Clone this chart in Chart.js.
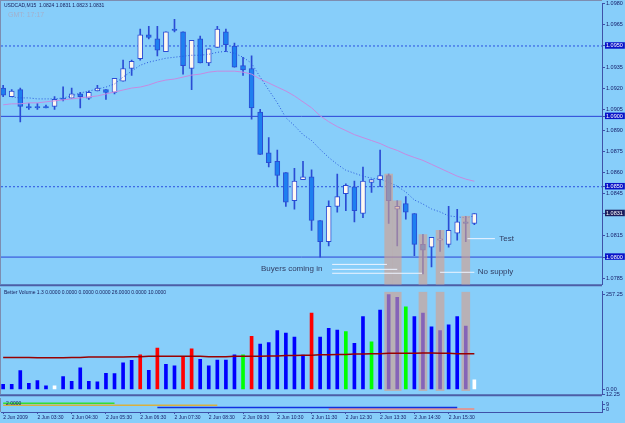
<!DOCTYPE html>
<html>
<head>
<meta charset="utf-8">
<title>USDCAD,M15</title>
<script src="https://cdn.jsdelivr.net/npm/chart.js@4.4.0/dist/chart.umd.min.js"></script>
<style>
  html, body { margin: 0; padding: 0; background: #87cefa; }
  #wrap { position: relative; width: 625px; height: 423px; overflow: hidden; }
  canvas { position: absolute; left: 0; }
  #price { top: 0; }
  #volume { top: 288px; }
  #strip { top: 398px; }
</style>
</head>
<body>
<div id="wrap">
  <canvas id="price" width="625" height="288"></canvas>
  <canvas id="volume" width="625" height="110"></canvas>
  <canvas id="strip" width="625" height="25"></canvas>
</div>
<script>
const SYMBOL = "USDCAD,M15";
const CLOCK = "GMT: 17:17";
const VOL_CAPTION = "Better Volume 1.3 0.0000 0.0000 0.0000 0.0000 26.0000 0.0000 10.0000";
const STRIP_CAPTION = "2.0000";

// 15 minute bars, 2 Jun 2009 02:30 onwards
const OPEN = [1.0920, 1.0914, 1.0919, 1.0907, 1.0907, 1.0907, 1.0907, 1.0913, 1.0913, 1.0916,
  1.0913, 1.0918, 1.0919, 1.0917, 1.0925, 1.0934, 1.0941, 1.0958, 1.0955, 1.0946,
  1.0962, 1.0960, 1.0934, 1.0955, 1.0938, 1.0949, 1.0960, 1.0950, 1.0936, 1.0934,
  1.0903, 1.0874, 1.0868, 1.0860, 1.0840, 1.0855, 1.0857, 1.0826, 1.0811, 1.0836,
  1.0845, 1.0850, 1.0831, 1.0853, 1.0855, 1.0858, 1.0834, 1.0838, 1.0831, 1.0809,
  1.0807, 1.0812, 1.0809, 1.0817, 1.0825, 1.0824];
const HIGH = [1.0922, 1.0919, 1.0920, 1.0909, 1.0909, 1.0908, 1.0914, 1.0921, 1.0920, 1.0917,
  1.0918, 1.0922, 1.0919, 1.0927, 1.0940, 1.0940, 1.0962, 1.0964, 1.0964, 1.0960,
  1.0969, 1.0960, 1.0954, 1.0957, 1.0948, 1.0964, 1.0962, 1.0952, 1.0942, 1.0943,
  1.0905, 1.0885, 1.0876, 1.0860, 1.0863, 1.0868, 1.0862, 1.0826, 1.0840, 1.0859,
  1.0852, 1.0854, 1.0864, 1.0855, 1.0876, 1.0859, 1.0840, 1.0843, 1.0831, 1.0816,
  1.0814, 1.0819, 1.0836, 1.0834, 1.0829, 1.0831];
const LOW = [1.0914, 1.0914, 1.0896, 1.0905, 1.0905, 1.0906, 1.0905, 1.0911, 1.0913, 1.0906,
  1.0912, 1.0918, 1.0912, 1.0916, 1.0925, 1.0929, 1.0940, 1.0955, 1.0943, 1.0946,
  1.0960, 1.0930, 1.0919, 1.0938, 1.0936, 1.0949, 1.0946, 1.0935, 1.0929, 1.0898,
  1.0873, 1.0864, 1.0850, 1.0836, 1.0834, 1.0855, 1.0819, 1.0800, 1.0808, 1.0832,
  1.0833, 1.0825, 1.0828, 1.0846, 1.0850, 1.0824, 1.0808, 1.0827, 1.0801, 1.0788,
  1.0793, 1.0804, 1.0807, 1.0812, 1.0811, 1.0823];
const CLOSE = [1.0915, 1.0918, 1.0907, 1.0906, 1.0906, 1.0906, 1.0912, 1.0912, 1.0916, 1.0914,
  1.0917, 1.0920, 1.0917, 1.0927, 1.0934, 1.0939, 1.0958, 1.0956, 1.0947, 1.0960,
  1.0961, 1.0936, 1.0954, 1.0938, 1.0948, 1.0962, 1.0951, 1.0935, 1.0933, 1.0906,
  1.0873, 1.0867, 1.0858, 1.0839, 1.0854, 1.0857, 1.0826, 1.0811, 1.0836, 1.0843,
  1.0851, 1.0833, 1.0854, 1.0855, 1.0858, 1.0840, 1.0836, 1.0832, 1.0809, 1.0805,
  1.0814, 1.0813, 1.0819, 1.0825, 1.0824, 1.0831];

const FAST_MA = [null, 1.09138, 1.09131, 1.09131, 1.09124, 1.09124, 1.09124, 1.09131, 1.09145, 1.09166,
  1.09180, 1.09194, 1.09208, 1.09230, 1.09279, 1.09321, 1.09363, 1.09385, 1.09399, 1.09413,
  1.09420, 1.09427, 1.09434, 1.09434, 1.09441, 1.09455, 1.09462, 1.09448, 1.09420, 1.09377,
  1.09279, 1.09187, 1.09096, 1.08990, 1.08934, 1.08870, 1.08828, 1.08765, 1.08708, 1.08659,
  1.08617, 1.08596, 1.08575, 1.08561, 1.08554, 1.08532, 1.08504, 1.08462, 1.08406, 1.08377,
  1.08342, 1.08321, 1.08293, 1.08286, 1.08279, 1.08293];
const SLOW_MA = [1.09082, 1.09089, 1.09089, 1.09096, 1.09096, 1.09103, 1.09110, 1.09117, 1.09124, 1.09131,
  1.09138, 1.09145, 1.09159, 1.09173, 1.09187, 1.09201, 1.09208, 1.09223, 1.09244, 1.09258,
  1.09265, 1.09279, 1.09293, 1.09300, 1.09314, 1.09321, 1.09321, 1.09321, 1.09314, 1.09300,
  1.09265, 1.09237, 1.09208, 1.09180, 1.09145, 1.09103, 1.09061, 1.09004, 1.08962, 1.08927,
  1.08899, 1.08870, 1.08849, 1.08828, 1.08807, 1.08779, 1.08758, 1.08730, 1.08708, 1.08687,
  1.08659, 1.08631, 1.08603, 1.08575, 1.08554, 1.08539];

const VOLUME = [14, 14, 51, 17, 24, 10, 10, 35, 22, 59,
  22, 21, 44, 43, 72, 79, 94, 52, 112, 68,
  64, 90, 110, 82, 64, 80, 80, 94, 94, 144,
  123, 127, 160, 153, 142, 93, 207, 142, 166, 161,
  157, 125, 198, 129, 215, 257, 250, 224, 198, 207,
  170, 160, 175, 198, 172, 26];
// n = normal, c = climax, g = churn, w = low volume
const VOL_KIND = ["n", "n", "n", "n", "n", "n", "w", "n", "n", "n",
  "n", "n", "n", "n", "n", "n", "c", "n", "c", "n",
  "n", "c", "c", "n", "n", "n", "n", "n", "g", "c",
  "n", "n", "n", "n", "n", "n", "c", "n", "n", "n",
  "g", "n", "n", "g", "n", "n", "n", "g", "n", "n",
  "n", "n", "n", "n", "n", "w"];
const VOL_AVG = [87, 87, 87, 87, 86, 86, 86, 86, 87, 87,
  88, 88, 88, 88, 88, 89, 89, 90, 90, 90,
  90, 90, 90, 90, 89, 89, 89, 90, 90, 90,
  90, 91, 91, 92, 92, 93, 93, 94, 94, 95,
  95, 96, 96, 97, 97, 98, 98, 98, 98, 99,
  99, 98, 98, 97, 97, 97];

const MARKED_BARS = [45, 46, 49, 51, 54];
const LEVELS = [1.0950, 1.0900, 1.0850, 1.0800];
const LEVEL_DOTTED = [true, false, true, false];
const PRICE_TICKS = [1.0785, 1.0815, 1.0845, 1.0860, 1.0875, 1.0890, 1.0905, 1.0920, 1.0935, 1.0965, 1.0980];
const VOL_TICKS = [-12.25, 0, 257.25];
const STRIP_TICKS = [0, 9];
const TIME_BARS = [0, 4, 8, 12, 16, 20, 24, 28, 32, 36, 40, 44, 48, 52];
const TIME_LABELS = ["2 Jun 2009", "2 Jun 03:30", "2 Jun 04:30", "2 Jun 05:30", "2 Jun 06:30",
  "2 Jun 07:30", "2 Jun 08:30", "2 Jun 09:30", "2 Jun 10:30", "2 Jun 11:30",
  "2 Jun 12:30", "2 Jun 13:30", "2 Jun 14:30", "2 Jun 15:30"];

const NOTE_TEXT = ["Buyers coming in", "No supply", "Test"];
const NOTE_BAR = [30.1, 55.4, 57.9];
const NOTE_PRICE = [1.07920, 1.07892, 1.08131];
const GUIDE_FROM = [38.4, 38.4, 38.4, 51.0, 54.2];
const GUIDE_TO = [44.8, 46.0, 48.9, 55.0, 57.4];
const GUIDE_PRICE = [1.07948, 1.07913, 1.07885, 1.07892, 1.08131];

const SIG_BARS = [[0, 13], [0, 25], [18, 53], [38, 55]];
const SIG_LEVEL = [12, 8, 3, 0];

// axis ranges
const X_MIN = -0.25, X_MAX = 69.9;
const PRICE_MIN = 1.07807, PRICE_MAX = 1.0980;
const VOL_MIN = -12.9, VOL_MAX = 265;
const STRIP_MIN = -6, STRIP_MAX = 15;

const FONT = "'Liberation Sans', Arial, sans-serif";
const AXIS_COLOR = "#3f51a8";
const LABEL_COLOR = "#17206b";
const WICK = "#2a4cd4";
const BULL = "#fff8f0";
const BEAR = "#1e7ff0";
const BAND = "rgba(215,160,140,0.62)";
const VOL_COLORS = { n: "#0000ff", c: "#ff0000", g: "#00ff00", w: "#ffffff" };
const SIG_COLORS = ["#33dd33", "#d8b040", "#1030e0", "#d89a9a"];
const AXIS_W = 23;

Chart.defaults.animation = false;
Chart.defaults.font.family = FONT;

const lastIdx = CLOSE.length - 1;
const same = (a, b) => Math.abs(a - b) < 1e-7;
const isLevel = v => LEVELS.some(l => same(l, v));
const isLast = v => same(v, CLOSE[lastIdx]);
const tickVal = c => (c.tick ? c.tick.value : NaN);

const baseX = (display) => ({
  type: "linear", min: X_MIN, max: X_MAX, offset: false, display: display
});

function rightAxis(min, max, values, fmt) {
  return {
    position: "right", min: min, max: max,
    afterBuildTicks: s => { s.ticks = values.map(v => ({ value: v })); },
    afterFit: s => { s.width = AXIS_W; },
    grid: { drawOnChartArea: false, tickLength: 3, color: AXIS_COLOR, offset: false },
    border: { color: AXIS_COLOR, width: 1 },
    ticks: {
      autoSkip: false, padding: 1,
      font: { size: 5.5, lineHeight: 1 },
      color: LABEL_COLOR,
      callback: fmt
    }
  };
}

const framePlugin = {
  id: "frame",
  beforeDatasetsDraw(chart, args, opts) {
    const { ctx, chartArea: a } = chart;
    ctx.save();
    if (opts.bottom) {
      ctx.strokeStyle = "#4c5ea6";
      ctx.lineWidth = 2;
      ctx.beginPath();
      ctx.moveTo(0, a.bottom + 1);
      ctx.lineTo(a.right, a.bottom + 1);
      ctx.stroke();
    }
    ctx.strokeStyle = "#7d8db0";
    ctx.lineWidth = 1;
    ctx.beginPath();
    ctx.moveTo(0.5, 0);
    ctx.lineTo(0.5, a.bottom);
    if (opts.top) {
      ctx.moveTo(0, 0.5);
      ctx.lineTo(a.right, 0.5);
    }
    ctx.stroke();
    ctx.restore();
  }
};

// ---------- price panel ----------
const priceTicks = PRICE_TICKS.concat(LEVELS, [CLOSE[lastIdx]]).sort((a, b) => a - b);
const priceAxis = rightAxis(PRICE_MIN, PRICE_MAX, priceTicks, v => v.toFixed(4));
priceAxis.ticks.color = c => (isLevel(tickVal(c)) || isLast(tickVal(c)) ? "#ffffff" : LABEL_COLOR);
priceAxis.ticks.showLabelBackdrop = c => isLevel(tickVal(c)) || isLast(tickVal(c));
priceAxis.ticks.backdropColor = c => (isLast(tickVal(c)) ? "#1b1f5e" : "#0a14c8");
priceAxis.ticks.backdropPadding = { top: 1, bottom: 0, left: 1, right: 2 };

const priceNotes = {
  id: "priceNotes",
  afterDatasetsDraw(chart) {
    const { ctx, scales: { x, y } } = chart;
    ctx.save();
    ctx.textBaseline = "middle";
    ctx.font = "8px " + FONT;
    ctx.fillStyle = "#303c62";
    NOTE_TEXT.forEach((t, i) => {
      ctx.fillText(t, x.getPixelForValue(NOTE_BAR[i]), y.getPixelForValue(NOTE_PRICE[i]));
    });
    const ohlc = [OPEN[lastIdx], HIGH[lastIdx], LOW[lastIdx], CLOSE[lastIdx]].map(v => v.toFixed(4)).join(" ");
    ctx.font = "5px " + FONT;
    ctx.fillStyle = "#161c5a";
    ctx.fillText(SYMBOL + "  " + ohlc, 4, 6);
    ctx.font = "7px " + FONT;
    ctx.fillStyle = "#a2b0cc";
    ctx.fillText(CLOCK, 8, 15);
    ctx.restore();
  }
};

const priceDatasets = [];
GUIDE_PRICE.forEach((p, i) => {
  priceDatasets.push({
    type: "line", order: 0,
    data: [{ x: GUIDE_FROM[i], y: p }, { x: GUIDE_TO[i], y: p }],
    borderColor: "#eef4ff", borderWidth: 1, pointRadius: 0
  });
});
priceDatasets.push({
  type: "bar", order: 1, grouped: false, clip: false,
  data: MARKED_BARS.map(i => ({ x: i, y: [PRICE_MIN, HIGH[i]] })),
  barThickness: 8, backgroundColor: BAND, borderWidth: 0
});
priceDatasets.push({
  type: "line", order: 2,
  data: FAST_MA.map((v, i) => ({ x: i, y: v })),
  borderColor: "#2a58dc", borderWidth: 1, borderDash: [1, 2], pointRadius: 0
});
priceDatasets.push({
  type: "line", order: 2,
  data: SLOW_MA.map((v, i) => ({ x: i, y: v })),
  borderColor: "#c68ae0", borderWidth: 1, pointRadius: 0
});
priceDatasets.push({
  type: "bar", order: 3, grouped: false,
  data: OPEN.map((o, i) => ({ x: i, y: [o, CLOSE[i]] })),
  barThickness: 5, minBarLength: 1,
  backgroundColor: c => (CLOSE[c.dataIndex] >= OPEN[c.dataIndex] ? BULL : BEAR),
  borderColor: WICK, borderWidth: 1, borderSkipped: false
});
priceDatasets.push({
  type: "bar", order: 4, grouped: false,
  data: LOW.map((l, i) => ({ x: i, y: [l, HIGH[i]] })),
  barThickness: 1, backgroundColor: WICK, borderWidth: 0
});
LEVELS.forEach((lv, i) => {
  priceDatasets.push({
    type: "line", order: 5,
    data: [{ x: X_MIN, y: lv }, { x: X_MAX, y: lv }],
    borderColor: LEVEL_DOTTED[i] ? "#2b50e0" : "#2a42d6",
    borderDash: LEVEL_DOTTED[i] ? [2, 2] : [],
    borderWidth: 1, pointRadius: 0
  });
});

new Chart(document.getElementById("price"), {
  type: "bar",
  data: { datasets: priceDatasets },
  options: {
    responsive: false,
    layout: { padding: { top: 3, bottom: 2, left: 1, right: 0 } },
    plugins: { legend: { display: false }, tooltip: { enabled: false }, frame: { top: true, bottom: true } },
    scales: { x: baseX(false), y: priceAxis }
  },
  plugins: [framePlugin, priceNotes]
});

// ---------- volume panel ----------
const volNotes = {
  id: "volNotes",
  afterDatasetsDraw(chart) {
    const ctx = chart.ctx;
    ctx.save();
    ctx.textBaseline = "middle";
    ctx.font = "5px " + FONT;
    ctx.fillStyle = "#161c5a";
    ctx.fillText(VOL_CAPTION, 4, 5);
    ctx.restore();
  }
};

new Chart(document.getElementById("volume"), {
  type: "bar",
  data: {
    datasets: [
      {
        type: "line", order: 0,
        data: VOL_AVG.map((v, i) => ({ x: i, y: v })),
        borderColor: "#990000", borderWidth: 1.5, pointRadius: 0
      },
      {
        type: "bar", order: 1, grouped: false,
        data: MARKED_BARS.map(i => ({ x: i, y: [-3, VOL_MAX] })),
        barThickness: 8, backgroundColor: BAND, borderWidth: 0
      },
      {
        type: "bar", order: 2, grouped: false,
        data: VOLUME.map((v, i) => ({ x: i, y: v })),
        barThickness: 3,
        backgroundColor: c => VOL_COLORS[VOL_KIND[c.dataIndex]] || VOL_COLORS.n,
        borderWidth: 0
      }
    ]
  },
  options: {
    responsive: false,
    layout: { padding: { top: 1, bottom: 1, left: 1, right: 0 } },
    plugins: { legend: { display: false }, tooltip: { enabled: false }, frame: { top: false, bottom: true } },
    scales: { x: baseX(false), y: rightAxis(VOL_MIN, VOL_MAX, VOL_TICKS, v => Math.abs(v).toFixed(2)) }
  },
  plugins: [framePlugin, volNotes]
});

// ---------- signal strip + time axis ----------
const stripNotes = {
  id: "stripNotes",
  afterDatasetsDraw(chart) {
    const ctx = chart.ctx;
    ctx.save();
    ctx.textBaseline = "middle";
    ctx.font = "5px " + FONT;
    ctx.fillStyle = "#161c5a";
    ctx.fillText(STRIP_CAPTION, 6, 6);
    ctx.restore();
  }
};

const stripX = baseX(true);
stripX.afterBuildTicks = s => { s.ticks = TIME_BARS.map(v => ({ value: v })); };
stripX.afterFit = s => { s.height = 11; };
stripX.grid = { drawOnChartArea: false, tickLength: 2, color: AXIS_COLOR, offset: false };
stripX.border = { color: AXIS_COLOR, width: 1 };
stripX.ticks = {
  autoSkip: false, maxRotation: 0, minRotation: 0, padding: 1, align: "start",
  font: { size: 5, lineHeight: 1 }, color: LABEL_COLOR,
  callback: (v, i) => TIME_LABELS[i]
};

new Chart(document.getElementById("strip"), {
  type: "line",
  data: {
    datasets: SIG_BARS.map((b, i) => ({
      data: [{ x: b[0], y: SIG_LEVEL[i] }, { x: b[1], y: SIG_LEVEL[i] }],
      borderColor: SIG_COLORS[i], borderWidth: i === 3 ? 2 : 1.5, pointRadius: 0
    }))
  },
  options: {
    responsive: false,
    layout: { padding: { top: 0, bottom: 0, left: 1, right: 0 } },
    plugins: { legend: { display: false }, tooltip: { enabled: false }, frame: { top: false, bottom: false } },
    scales: { x: stripX, y: rightAxis(STRIP_MIN, STRIP_MAX, STRIP_TICKS, v => String(v)) }
  },
  plugins: [framePlugin, stripNotes]
});
</script>
</body>
</html>
